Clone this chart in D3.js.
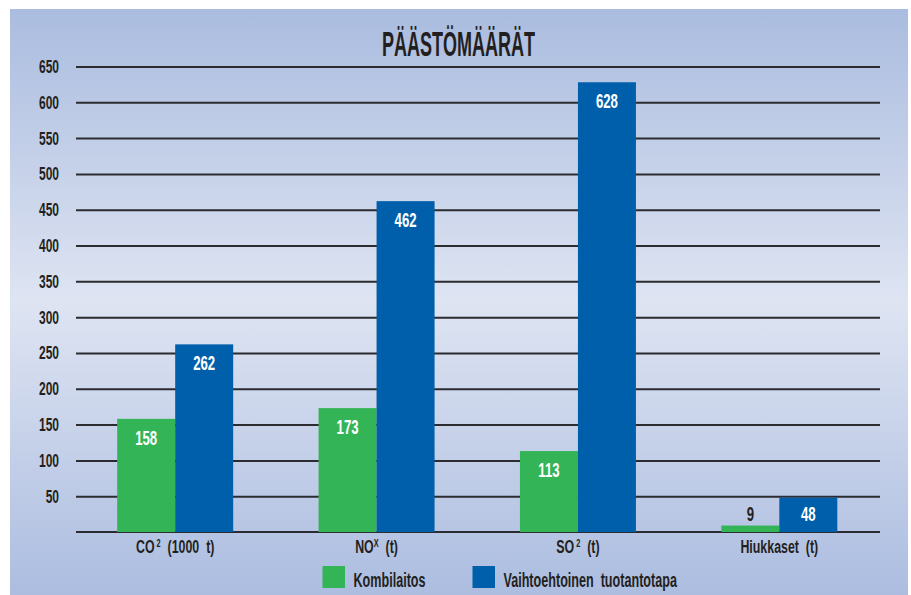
<!DOCTYPE html>
<html>
<head>
<meta charset="utf-8">
<script src="https://cdn.jsdelivr.net/npm/d3@7"></script>
<style>
  body { margin: 0; background: #fff; }
  svg text { font-family: "Liberation Sans", Arial, sans-serif; font-weight: bold; }
</style>
</head>
<body>
<div id="chart"></div>
<script>
// data
var categories = ["CO2", "NOx", "SO2", "Hiukkaset"];
var catLabels = [
  {base: "CO", sup: "2", rest: "  (1000  t)"},
  {base: "NO", sup: "X", rest: "  (t)"},
  {base: "SO", sup: "2", rest: "  (t)"},
  {base: "Hiukkaset  (t)", sup: "", rest: ""}
];
var seriesNames = ["Kombilaitos", "Vaihtoehtoinen tuotantotapa"];
var kombilaitos = [158, 173, 113, 9];
var vaihtoehtoinen = [262, 462, 628, 48];
var yTicks = [50, 100, 150, 200, 250, 300, 350, 400, 450, 500, 550, 600, 650];
var colors = ["#33b457", "#005fab"];

var width = 911, height = 595;
var mLeft = 76, mRight = 880, mTop = 66.5, mBottom = 532;
var ink = "#231f20";

// squeeze text horizontally (the original font is a narrow one)
function squeeze(sel, f) {
  sel.each(function() {
    var t = d3.select(this);
    var x = +t.attr("x") || 0;
    t.attr("x", x / f).attr("transform", "scale(" + f + ",1)");
  });
}

var svg = d3.select("#chart").append("svg")
  .attr("width", width)
  .attr("height", height);

var grad = svg.append("defs").append("linearGradient")
  .attr("id", "bg")
  .attr("x1", 0).attr("y1", 0).attr("x2", 0).attr("y2", 1);
grad.append("stop").attr("offset", "0%").attr("stop-color", "#aabcdf");
grad.append("stop").attr("offset", "50%").attr("stop-color", "#dee4f2");
grad.append("stop").attr("offset", "100%").attr("stop-color", "#acbde0");

svg.append("rect")
  .attr("x", 10).attr("y", 9)
  .attr("width", 898).attr("height", height - 9)
  .attr("fill", "url(#bg)");

// title
svg.append("text")
  .attr("x", 458.5).attr("y", 56)
  .attr("text-anchor", "middle")
  .attr("font-size", 35)
  .attr("textLength", 153)
  .attr("lengthAdjust", "spacingAndGlyphs")
  .attr("fill", ink)
  .text("PÄÄSTÖMÄÄRÄT");

var y = d3.scaleLinear().domain([0, 650]).range([mBottom, mTop]);
// bars sit a little left of the grid's centre in the original
var x0 = d3.scaleBand().domain(categories).range([74.5, mRight]).padding(0);
var bw = x0.bandwidth();
var x1 = d3.scaleBand().domain(seriesNames).range([bw / 2 - 58, bw / 2 + 58]);

// grid lines + tick labels
var yAxis = d3.axisLeft(y).tickValues(yTicks).tickSize(-(mRight - mLeft)).tickPadding(17);
var gy = svg.append("g").attr("transform", "translate(" + mLeft + ",0)").call(yAxis);
gy.select(".domain").remove();
gy.selectAll(".tick line").attr("stroke", "#2b2b30").attr("stroke-width", 2);
gy.selectAll(".tick text")
  .attr("font-size", 18.5)
  .attr("font-family", "Liberation Sans")
  .attr("font-weight", "bold")
  .attr("fill", ink)
  .call(squeeze, 0.65);

// baseline
svg.append("line")
  .attr("x1", mLeft).attr("x2", mRight)
  .attr("y1", y(0)).attr("y2", y(0))
  .attr("stroke", "#2b2b30").attr("stroke-width", 2);

var rows = categories.map(function(c, i) {
  return {cat: c, values: [
    {name: seriesNames[0], value: kombilaitos[i], color: colors[0]},
    {name: seriesNames[1], value: vaihtoehtoinen[i], color: colors[1]}
  ]};
});

var groups = svg.append("g").selectAll("g")
  .data(rows)
  .enter().append("g")
  .attr("transform", d => "translate(" + x0(d.cat) + ",0)");

groups.selectAll("rect")
  .data(d => d.values)
  .enter().append("rect")
  .attr("x", d => x1(d.name))
  .attr("width", x1.bandwidth())
  .attr("y", d => y(d.value))
  .attr("height", d => y(0) - y(d.value))
  .attr("fill", d => d.color);

groups.selectAll("text.val")
  .data(d => d.values)
  .enter().append("text")
  .attr("class", "val")
  .attr("x", d => x1(d.name) + x1.bandwidth() / 2)
  .attr("y", d => Math.min(y(d.value) + 26, y(0) - 11))
  .attr("text-anchor", "middle")
  .attr("font-size", 20)
  .attr("fill", d => (y(0) - y(d.value) > 25) ? "#ffffff" : ink)
  .text(d => d.value)
  .call(squeeze, 0.66);

// category labels
var cl = svg.append("g").selectAll("text")
  .data(catLabels)
  .enter().append("text")
  .attr("x", (d, i) => x0(categories[i]) + bw / 2)
  .attr("y", 553)
  .attr("text-anchor", "middle")
  .attr("font-size", 18.5)
  .attr("fill", ink)
  .attr("xml:space", "preserve");
cl.append("tspan").text(d => d.base);
cl.append("tspan")
  .attr("font-size", 11)
  .attr("dy", d => d.sup ? -6 : 0)
  .text(d => d.sup ? (d.sup === "X" ? d.sup : " " + d.sup) : "");
cl.append("tspan")
  .attr("dy", d => d.sup ? 6 : 0)
  .text(d => d.rest);
cl.call(squeeze, 0.67);

// legend
var legendX = [322.5, 472.5];
var leg = svg.append("g").selectAll("g")
  .data(seriesNames)
  .enter().append("g")
  .attr("transform", (d, i) => "translate(" + legendX[i] + ",566)");
leg.append("rect")
  .attr("width", 22.5)
  .attr("height", 22)
  .attr("fill", (d, i) => colors[i]);
leg.append("text")
  .attr("x", 31).attr("y", 21)
  .attr("font-size", 21)
  .attr("fill", ink)
  .attr("xml:space", "preserve")
  .text(d => d.replace(" ", "  "))
  .call(squeeze, 0.6);
</script>
</body>
</html>
